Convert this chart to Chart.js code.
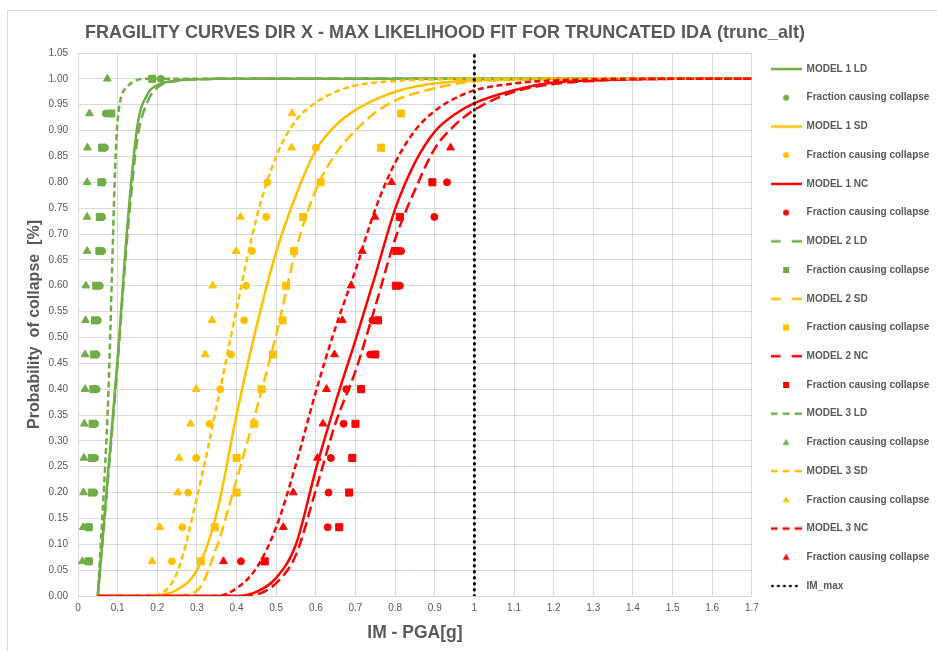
<!DOCTYPE html>
<html>
<head>
<meta charset="utf-8">
<title>Fragility curves dir X</title>
<script src="https://cdn.jsdelivr.net/npm/chart.js@4.4.1/dist/chart.umd.min.js"></script>
<style>
    html, body { margin: 0; padding: 0; background: #ffffff; }
    #wrap { position: relative; width: 937px; height: 651px; overflow: hidden; }
    #frame { position: absolute; left: 7px; top: 10px; width: 960px; height: 680px;
             border-left: 1px solid #d9d9d9; border-top: 1px solid #d9d9d9; }
    #fragilityChart { position: absolute; left: 0; top: 0; }
</style>
</head>
<body>
<div id="wrap">
    <div id="frame"></div>
    <canvas id="fragilityChart" width="937" height="651"></canvas>
</div>
<script>
// IM grid of the fitted curves (PGA [g])
const imGrid = [0.05, 0.075, 0.1, 0.125, 0.15, 0.175, 0.2, 0.25, 0.3, 0.35, 0.4, 0.45, 0.5, 0.55, 0.6,
    0.65, 0.7, 0.75, 0.8, 0.85, 0.9, 0.95, 1.0, 1.1, 1.2, 1.3, 1.4, 1.5, 1.6, 1.7];

// fitted fragility curves, read at imGrid
const model1LD = [0, 0.23, 0.46, 0.72, 0.91, 0.97, 0.988, 0.997, 0.999, 1, 1, 1, 1, 1, 1,
    1, 1, 1, 1, 1, 1, 1, 1, 1, 1, 1, 1, 1, 1, 1];
const model1SD = [0, 0, 0, 0, 0, 0, 0.001, 0.012, 0.05, 0.16, 0.35, 0.52, 0.665, 0.775, 0.862,
    0.91, 0.94, 0.96, 0.975, 0.985, 0.991, 0.995, 0.997, 0.999, 1, 1, 1, 1, 1, 1];
const model1NC = [0, 0, 0, 0, 0, 0, 0, 0, 0, 0, 0, 0.008, 0.035, 0.10, 0.245,
    0.375, 0.495, 0.62, 0.748, 0.838, 0.898, 0.931, 0.953, 0.978, 0.993, 0.997, 0.999, 1, 1, 1];
const model2LD = [0, 0.22, 0.45, 0.70, 0.885, 0.955, 0.983, 0.996, 0.999, 1, 1, 1, 1, 1, 1,
    1, 1, 1, 1, 1, 1, 1, 1, 1, 1, 1, 1, 1, 1, 1];
const model2SD = [0, 0, 0, 0, 0, 0, 0, 0.001, 0.01, 0.095, 0.225, 0.36, 0.505, 0.67, 0.785,
    0.855, 0.90, 0.935, 0.958, 0.972, 0.982, 0.99, 0.995, 0.998, 0.999, 1, 1, 1, 1, 1];
const model2NC = [0, 0, 0, 0, 0, 0, 0, 0, 0, 0, 0, 0.003, 0.025, 0.08, 0.205,
    0.335, 0.435, 0.56, 0.69, 0.785, 0.865, 0.91, 0.94, 0.975, 0.99, 0.996, 0.999, 1, 1, 1];
const model3LD = [0, 0.36, 0.92, 0.985, 0.998, 1, 1, 1, 1, 1, 1, 1, 1, 1, 1,
    1, 1, 1, 1, 1, 1, 1, 1, 1, 1, 1, 1, 1, 1, 1];
const model3SD = [0, 0, 0, 0, 0, 0, 0.002, 0.045, 0.19, 0.367, 0.555, 0.73, 0.85, 0.92, 0.954,
    0.975, 0.987, 0.993, 0.996, 0.998, 0.999, 1, 1, 1, 1, 1, 1, 1, 1, 1];
const model3NC = [0, 0, 0, 0, 0, 0, 0, 0, 0, 0, 0.015, 0.054, 0.133, 0.255, 0.395,
    0.52, 0.63, 0.748, 0.838, 0.90, 0.938, 0.962, 0.978, 0.991, 0.997, 0.999, 1, 1, 1, 1];

// fraction of records causing collapse (IDA points)
const frac15 = [0.067, 0.133, 0.2, 0.267, 0.333, 0.4, 0.467, 0.533, 0.6, 0.667, 0.733, 0.8, 0.867, 0.933, 1.0];
const frac14 = [0.067, 0.133, 0.2, 0.267, 0.333, 0.4, 0.467, 0.533, 0.6, 0.667, 0.733, 0.8, 0.867, 0.933];
const frac13 = [0.067, 0.133, 0.2, 0.267, 0.333, 0.4, 0.467, 0.533, 0.6, 0.667, 0.733, 0.8, 0.867];
const frac12 = [0.067, 0.133, 0.2, 0.267, 0.333, 0.4, 0.467, 0.533, 0.6, 0.667, 0.733, 0.8];
const frac13b = [0.067, 0.133, 0.2, 0.267, 0.333, 0.4, 0.467, 0.533, 0.6, 0.667, 0.733, 0.867, 0.933];

const pts1LD = [0.028, 0.028, 0.041, 0.043, 0.043, 0.047, 0.047, 0.050, 0.055, 0.061, 0.061, 0.062, 0.068, 0.070, 0.209];
const pts2LD = [0.027, 0.027, 0.035, 0.035, 0.037, 0.039, 0.040, 0.043, 0.046, 0.054, 0.055, 0.059, 0.061, 0.084, 0.187];
const pts3LD = [0.011, 0.013, 0.014, 0.015, 0.016, 0.018, 0.018, 0.019, 0.020, 0.023, 0.023, 0.023, 0.024, 0.029, 0.074];
const pts1SD = [0.237, 0.263, 0.278, 0.298, 0.332, 0.359, 0.386, 0.419, 0.424, 0.439, 0.475, 0.478, 0.600];
const pts2SD = [0.310, 0.345, 0.400, 0.400, 0.445, 0.463, 0.492, 0.516, 0.525, 0.545, 0.568, 0.612, 0.765, 0.815];
const pts3SD = [0.187, 0.206, 0.252, 0.255, 0.284, 0.298, 0.321, 0.338, 0.340, 0.399, 0.410, 0.539, 0.540];
const pts1NC = [0.411, 0.630, 0.632, 0.638, 0.670, 0.677, 0.737, 0.743, 0.812, 0.815, 0.899, 0.931];
const pts2NC = [0.471, 0.659, 0.684, 0.692, 0.700, 0.714, 0.750, 0.757, 0.802, 0.803, 0.812, 0.894];
const pts3NC = [0.367, 0.518, 0.543, 0.604, 0.618, 0.627, 0.647, 0.667, 0.689, 0.717, 0.749, 0.791, 0.940];

// IM_max marker line
const imMaxX = [1, 1];
const imMaxY = [0, 1.05];

const GREEN = '#70AD47';
const YELLOW = '#FFC000';
const RED = '#FF0000';
const TEXT = '#595959';
const GRID = '#d9d9d9';
const FONT = "'Liberation Sans', Arial, sans-serif";

const DASH_M2 = [11, 5];
const DASH_M3 = [6, 3.5];

function toXY(xs, ys) {
    return xs.map((x, i) => ({ x: x, y: ys[i] }));
}

// small canvases used as legend swatches
function lineSwatch(color, dash, width, cap) {
    const c = document.createElement('canvas');
    c.width = 31; c.height = 8;
    const g = c.getContext('2d');
    g.strokeStyle = color;
    g.lineWidth = width;
    g.lineCap = cap || 'butt';
    g.setLineDash(dash);
    g.beginPath();
    g.moveTo(cap === 'round' ? 1.5 : 0, 4);
    g.lineTo(31, 4);
    g.stroke();
    return c;
}

function markerSwatch(color, style) {
    const c = document.createElement('canvas');
    c.width = 10; c.height = 10;
    const g = c.getContext('2d');
    g.fillStyle = color;
    g.beginPath();
    if (style === 'circle') {
        g.arc(5, 5, 3, 0, Math.PI * 2);
    } else if (style === 'rect') {
        g.rect(2, 2, 6, 6);
    } else {
        g.moveTo(5, 1.5); g.lineTo(8.5, 7.5); g.lineTo(1.5, 7.5); g.closePath();
    }
    g.fill();
    return c;
}

function curve(label, ys, color, dash, legendDash) {
    return {
        label: label,
        data: toXY(imGrid, ys),
        borderColor: color,
        backgroundColor: color,
        borderWidth: 2.5,
        borderDash: dash,
        pointRadius: 0,
        fill: false,
        cubicInterpolationMode: 'monotone',
        swatch: lineSwatch(color, legendDash, 2.5)
    };
}

function points(xs, ys, color, style, radius) {
    return {
        label: 'Fraction causing collapse',
        data: toXY(xs, ys),
        showLine: false,
        pointStyle: style,
        pointRadius: radius,
        borderWidth: 1,
        borderColor: color,
        backgroundColor: color,
        swatch: markerSwatch(color, style)
    };
}

const datasets = [
    curve('MODEL 1 LD', model1LD, GREEN, [], []),
    points(pts1LD, frac15, GREEN, 'circle', 3.5),
    curve('MODEL 1 SD', model1SD, YELLOW, [], []),
    points(pts1SD, frac13, YELLOW, 'circle', 3.5),
    curve('MODEL 1 NC', model1NC, RED, [], []),
    points(pts1NC, frac12, RED, 'circle', 3.5),
    curve('MODEL 2 LD', model2LD, GREEN, DASH_M2, [10, 11]),
    points(pts2LD, frac15, GREEN, 'rect', 5),
    curve('MODEL 2 SD', model2SD, YELLOW, DASH_M2, [10, 11]),
    points(pts2SD, frac14, YELLOW, 'rect', 5),
    curve('MODEL 2 NC', model2NC, RED, DASH_M2, [10, 11]),
    points(pts2NC, frac12, RED, 'rect', 5),
    curve('MODEL 3 LD', model3LD, GREEN, DASH_M3, [7, 5]),
    points(pts3LD, frac15, GREEN, 'triangle', 4.5),
    curve('MODEL 3 SD', model3SD, YELLOW, DASH_M3, [7, 5]),
    points(pts3SD, frac13b, YELLOW, 'triangle', 4.5),
    curve('MODEL 3 NC', model3NC, RED, DASH_M3, [7, 5]),
    points(pts3NC, frac13, RED, 'triangle', 4.5),
    {
        label: 'IM_max',
        data: toXY(imMaxX, imMaxY),
        borderColor: '#000000',
        backgroundColor: '#000000',
        borderWidth: 3,
        borderDash: [0.5, 5.5],
        borderCapStyle: 'round',
        pointRadius: 0,
        fill: false,
        swatch: lineSwatch('#000000', [0.5, 5.5], 2.5, 'round')
    }
];

// later series drawn on top, like the spreadsheet
datasets.forEach((ds, i) => { ds.order = datasets.length - i; });

// the spreadsheet centres the title over plot + legend, not over the plot only
const titleSpan = {
    id: 'titleSpan',
    afterLayout(chart) {
        const t = chart.titleBlock;
        t.left = chart.chartArea.left + 7;
        t.width = 720;
        t.right = t.left + t.width;
    }
};

new Chart(document.getElementById('fragilityChart'), {
    type: 'line',
    data: { datasets: datasets },
    plugins: [titleSpan],
    options: {
        responsive: false,
        animation: false,
        devicePixelRatio: 1,
        events: [],
        layout: {
            padding: { top: 8, left: 20, right: -2.4, bottom: 4 }
        },
        plugins: {
            title: {
                display: true,
                text: 'FRAGILITY CURVES DIR X - MAX LIKELIHOOD FIT FOR TRUNCATED IDA (trunc_alt)',
                fullSize: false,
                align: 'center',
                color: TEXT,
                font: { family: FONT, size: 19, weight: 'bold' },
                padding: { top: 13.6, bottom: 8.6 }
            },
            tooltip: { enabled: false },
            legend: {
                position: 'right',
                align: 'center',
                labels: {
                    usePointStyle: true,
                    pointStyleWidth: 31,
                    boxHeight: 10,
                    padding: 18.72,
                    color: TEXT,
                    font: { family: FONT, size: 10, weight: 'bold' },
                    generateLabels: (chart) => chart.data.datasets.map((ds, i) => ({
                        text: ds.label,
                        pointStyle: ds.swatch,
                        fillStyle: ds.backgroundColor,
                        strokeStyle: ds.borderColor,
                        fontColor: TEXT,
                        lineWidth: 0,
                        hidden: false,
                        datasetIndex: i
                    }))
                }
            }
        },
        scales: {
            x: {
                type: 'linear',
                min: 0,
                max: 1.7,
                afterFit: (scale) => { scale.height = 51; },
                ticks: {
                    stepSize: 0.1,
                    padding: 6,
                    color: TEXT,
                    font: { family: FONT, size: 10 },
                    callback: (value) => String(Math.round(value * 10) / 10)
                },
                grid: { color: GRID, drawTicks: false },
                border: { color: GRID },
                title: {
                    display: true,
                    text: 'IM - PGA[g]',
                    color: TEXT,
                    font: { family: FONT, size: 17.5, weight: 'bold' },
                    padding: { top: 0, bottom: 3.5 }
                }
            },
            y: {
                min: 0,
                max: 1.05,
                afterFit: (scale) => { scale.width = 58; },
                ticks: {
                    stepSize: 0.05,
                    padding: 10,
                    color: TEXT,
                    font: { family: FONT, size: 10 },
                    callback: (value) => value.toFixed(2)
                },
                grid: { color: GRID, drawTicks: false },
                border: { color: GRID },
                title: {
                    display: true,
                    text: 'Probability  of collapse  [%]',
                    color: TEXT,
                    font: { family: FONT, size: 16, weight: 'bold' },
                    padding: { top: 5.4, bottom: 0 }
                }
            }
        }
    }
});
</script>
</body>
</html>
